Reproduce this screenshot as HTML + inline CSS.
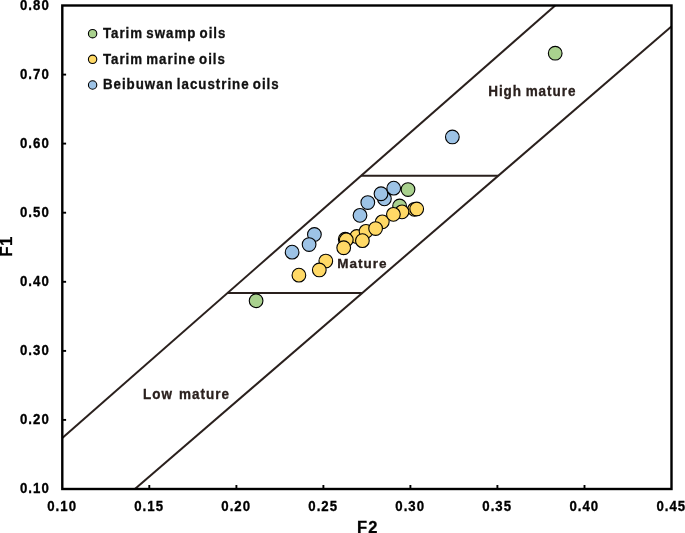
<!DOCTYPE html>
<html><head><meta charset="utf-8"><title>F1 vs F2</title>
<style>
html,body{margin:0;padding:0;background:#fff;}
body{width:685px;height:533px;overflow:hidden;position:relative;font-family:"Liberation Sans",sans-serif;}
svg{position:absolute;left:0;top:0;display:block;}
text{font-family:"Liberation Sans",sans-serif;font-weight:bold;}
.tk{font-size:13.5px;letter-spacing:1.05px;fill:#000;stroke:#000;stroke-width:0.3px;}
.lg{font-size:13.3px;letter-spacing:1.0px;word-spacing:-1.5px;fill:#111;stroke:#111;stroke-width:0.3px;}
.rg{font-size:13.5px;letter-spacing:1.0px;word-spacing:1.2px;fill:#2b211e;stroke:#2b211e;stroke-width:0.3px;}
.hm{letter-spacing:0.95px;word-spacing:-1.0px;}
.f1{letter-spacing:0.4px !important;}
.ax{font-size:16.5px;letter-spacing:1px;fill:#000;stroke:#000;stroke-width:0.3px;}
</style></head><body>
<svg width="685" height="533" viewBox="0 0 685 533">
<rect x="0" y="0" width="685" height="533" fill="#fff"/>

<g stroke="#2a201d" stroke-width="2.0" fill="none" stroke-linecap="butt">
<line x1="62.3" y1="437.9" x2="555.2" y2="5.5"/>
<line x1="134.9" y1="489.0" x2="671.4" y2="26.5"/>
<line x1="361.2" y1="175.7" x2="498.3" y2="175.7"/>
<line x1="227.6" y1="292.9" x2="362.4" y2="292.9"/>
</g>
<rect x="62.3" y="5.5" width="609.2" height="483.5" fill="none" stroke="#000" stroke-width="2.4"/>
<g stroke="#000" stroke-width="1.9">
<line x1="149.3" y1="489.0" x2="149.3" y2="485.0"/>
<line x1="236.4" y1="489.0" x2="236.4" y2="485.0"/>
<line x1="323.4" y1="489.0" x2="323.4" y2="485.0"/>
<line x1="410.4" y1="489.0" x2="410.4" y2="485.0"/>
<line x1="497.4" y1="489.0" x2="497.4" y2="485.0"/>
<line x1="584.5" y1="489.0" x2="584.5" y2="485.0"/>
<line x1="62.3" y1="419.9" x2="66.1" y2="419.9"/>
<line x1="62.3" y1="350.9" x2="66.1" y2="350.9"/>
<line x1="62.3" y1="281.8" x2="66.1" y2="281.8"/>
<line x1="62.3" y1="212.7" x2="66.1" y2="212.7"/>
<line x1="62.3" y1="143.6" x2="66.1" y2="143.6"/>
<line x1="62.3" y1="74.6" x2="66.1" y2="74.6"/>
</g>
<text class="tk" text-anchor="middle" transform="translate(62.1,510.6) scale(0.98,1.09)">0.10</text>
<text class="tk" text-anchor="middle" transform="translate(149.1,510.6) scale(0.98,1.09)">0.15</text>
<text class="tk" text-anchor="middle" transform="translate(236.2,510.6) scale(0.98,1.09)">0.20</text>
<text class="tk" text-anchor="middle" transform="translate(323.2,510.6) scale(0.98,1.09)">0.25</text>
<text class="tk" text-anchor="middle" transform="translate(410.2,510.6) scale(0.98,1.09)">0.30</text>
<text class="tk" text-anchor="middle" transform="translate(497.2,510.6) scale(0.98,1.09)">0.35</text>
<text class="tk" text-anchor="middle" transform="translate(584.3,510.6) scale(0.98,1.09)">0.40</text>
<text class="tk" text-anchor="middle" transform="translate(671.3,510.6) scale(0.98,1.09)">0.45</text>
<text class="tk" text-anchor="end" transform="translate(49.8,493.1) scale(0.98,1.09)">0.10</text>
<text class="tk" text-anchor="end" transform="translate(49.8,424.0) scale(0.98,1.09)">0.20</text>
<text class="tk" text-anchor="end" transform="translate(49.8,355.0) scale(0.98,1.09)">0.30</text>
<text class="tk" text-anchor="end" transform="translate(49.8,285.9) scale(0.98,1.09)">0.40</text>
<text class="tk" text-anchor="end" transform="translate(49.8,216.8) scale(0.98,1.09)">0.50</text>
<text class="tk" text-anchor="end" transform="translate(49.8,147.7) scale(0.98,1.09)">0.60</text>
<text class="tk" text-anchor="end" transform="translate(49.8,78.7) scale(0.98,1.09)">0.70</text>
<text class="tk" text-anchor="end" transform="translate(49.8,9.6) scale(0.98,1.09)">0.80</text>
<text class="ax" text-anchor="start" transform="translate(357.1,533.3) scale(1,1.03)">F2</text>
<text class="ax f1" text-anchor="start" transform="translate(12.1,256.8) rotate(-90) scale(1.03,1.0)">F1</text>
<g stroke="#000" stroke-width="1.1">
<circle cx="256.1" cy="300.75" r="6.85" fill="#a9d18e"/>
<circle cx="555.2" cy="53.20" r="6.85" fill="#a9d18e"/>
<circle cx="452.35" cy="136.95" r="6.85" fill="#9dc3e6"/>
<circle cx="298.9" cy="275.15" r="6.85" fill="#ffd966"/>
<circle cx="325.8" cy="261.05" r="6.85" fill="#ffd966"/>
<circle cx="319.3" cy="269.95" r="6.85" fill="#ffd966"/>
<circle cx="292.1" cy="252.15" r="6.85" fill="#9dc3e6"/>
<circle cx="314.4" cy="234.45" r="6.85" fill="#9dc3e6"/>
<circle cx="309.1" cy="244.55" r="6.85" fill="#9dc3e6"/>
<circle cx="399.6" cy="205.95" r="6.85" fill="#a9d18e"/>
<circle cx="408.0" cy="189.55" r="6.85" fill="#a9d18e"/>
<circle cx="384.4" cy="198.85" r="6.85" fill="#9dc3e6"/>
<circle cx="381.0" cy="193.75" r="6.85" fill="#9dc3e6"/>
<circle cx="393.7" cy="188.15" r="6.85" fill="#9dc3e6"/>
<circle cx="367.8" cy="202.55" r="6.85" fill="#9dc3e6"/>
<circle cx="360.0" cy="215.35" r="6.85" fill="#9dc3e6"/>
<circle cx="414.5" cy="209.35" r="6.85" fill="#ffd966"/>
<circle cx="416.7" cy="208.95" r="6.85" fill="#ffd966"/>
<circle cx="402.0" cy="211.85" r="6.85" fill="#ffd966"/>
<circle cx="382.3" cy="221.85" r="6.85" fill="#ffd966"/>
<circle cx="393.4" cy="214.35" r="6.85" fill="#ffd966"/>
<circle cx="356.8" cy="236.45" r="6.85" fill="#ffd966"/>
<circle cx="366" cy="231.35" r="6.85" fill="#ffd966"/>
<circle cx="375.6" cy="228.55" r="6.85" fill="#ffd966"/>
<circle cx="362.4" cy="240.65" r="6.85" fill="#ffd966"/>
<circle cx="345.2" cy="239.25" r="6.85" fill="#ffd966"/>
<circle cx="346.3" cy="239.85" r="6.85" fill="#ffd966"/>
<circle cx="343.7" cy="247.75" r="6.85" fill="#ffd966"/>
</g>
<g stroke="#000" stroke-width="1.1">
<circle cx="92.6" cy="33.7" r="4.2" fill="#a9d18e"/>
<circle cx="92.6" cy="59.3" r="4.2" fill="#ffd966"/>
<circle cx="92.6" cy="85.0" r="4.2" fill="#9dc3e6"/>
</g>
<text class="lg" text-anchor="start" transform="translate(102.9,38.0) scale(1,1.08)">Tarim swamp oils</text>
<text class="lg" text-anchor="start" transform="translate(102.9,63.5) scale(1,1.08)">Tarim marine oils</text>
<text class="lg" text-anchor="start" transform="translate(102.9,89.0) scale(1,1.08)">Beibuwan lacustrine oils</text>
<text class="rg hm" text-anchor="start" transform="translate(488.2,95.6) scale(1,1.04)">High mature</text>
<text class="rg" text-anchor="start" transform="translate(337.3,267.7) scale(1,1.0)">Mature</text>
<text class="rg" text-anchor="start" transform="translate(143.0,398.7) scale(1,1.02)">Low mature</text>
</svg></body></html>
